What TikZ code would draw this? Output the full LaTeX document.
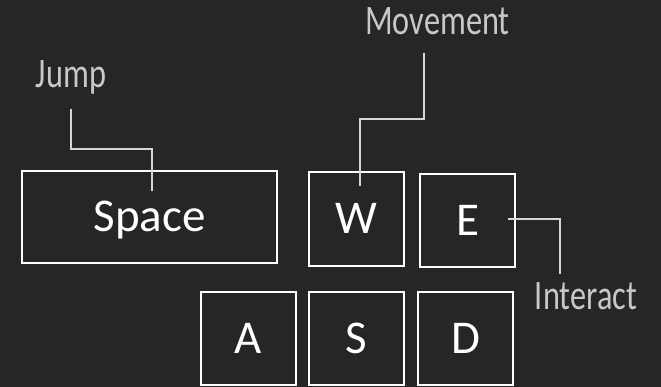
\documentclass[tikz,border=0pt]{standalone}
\usepackage{fontspec}
\setmainfont{Carlito}
\newfontfamily\labfont[FakeStretch=0.77]{Carlito}
\usetikzlibrary{calc}
\definecolor{bg}{HTML}{262626}
\definecolor{linec}{HTML}{D6D6D6}
\definecolor{labc}{HTML}{C8C8C8}
\tikzset{
  key/.style={draw=white, line width=1.5pt, minimum width=95pt, minimum height=93pt,
    text=white, font=\fontsize{47}{50}\selectfont, text height=30pt, text depth=0pt,
    inner sep=0pt, outer sep=0pt},
  lab/.style={text=labc, font=\labfont\fontsize{42}{44}\selectfont, inner sep=0pt, anchor=base},
  conn/.style={draw=linec, line width=1.2pt}
}
\begin{document}
\begin{tikzpicture}[x=1pt,y=-1pt]
\fill[bg] (0,0) rectangle (661,387);
\useasboundingbox (0,0) rectangle (661,387);
% keys
\node[key, minimum width=255pt, minimum height=92pt] (space) at (149.5,217) {Space};
\node[key, minimum height=94pt] (W) at (356.5,219) {W};
\node[key] (E) at (467.5,220.5) {E};
\node[key] (A) at (248.5,338.5) {A};
\node[key] (S) at (356.5,338.5) {S};
\node[key] (D) at (465.5,338.5) {D};
% labels
\node[lab] (jump) at (71,88) {Jump};
\node[lab] (mov) at (437.5,35) {Movement};
\node[lab] (int) at (586,309) {Interact};
% connectors
\draw[conn] ([yshift=-21pt]jump.base) -- ++(0,40) -| ([xshift=2.5pt,yshift=26pt]space.center);
\draw[conn] ([xshift=-13.5pt,yshift=-18pt]mov.base) -- ++(0,66) -| ([xshift=3.5pt,yshift=33pt]W.center);
\draw[conn] ([xshift=40.5pt,yshift=1.5pt]E.center) -| ([xshift=-26pt,yshift=35pt]int.base);
\end{tikzpicture}
\end{document}
